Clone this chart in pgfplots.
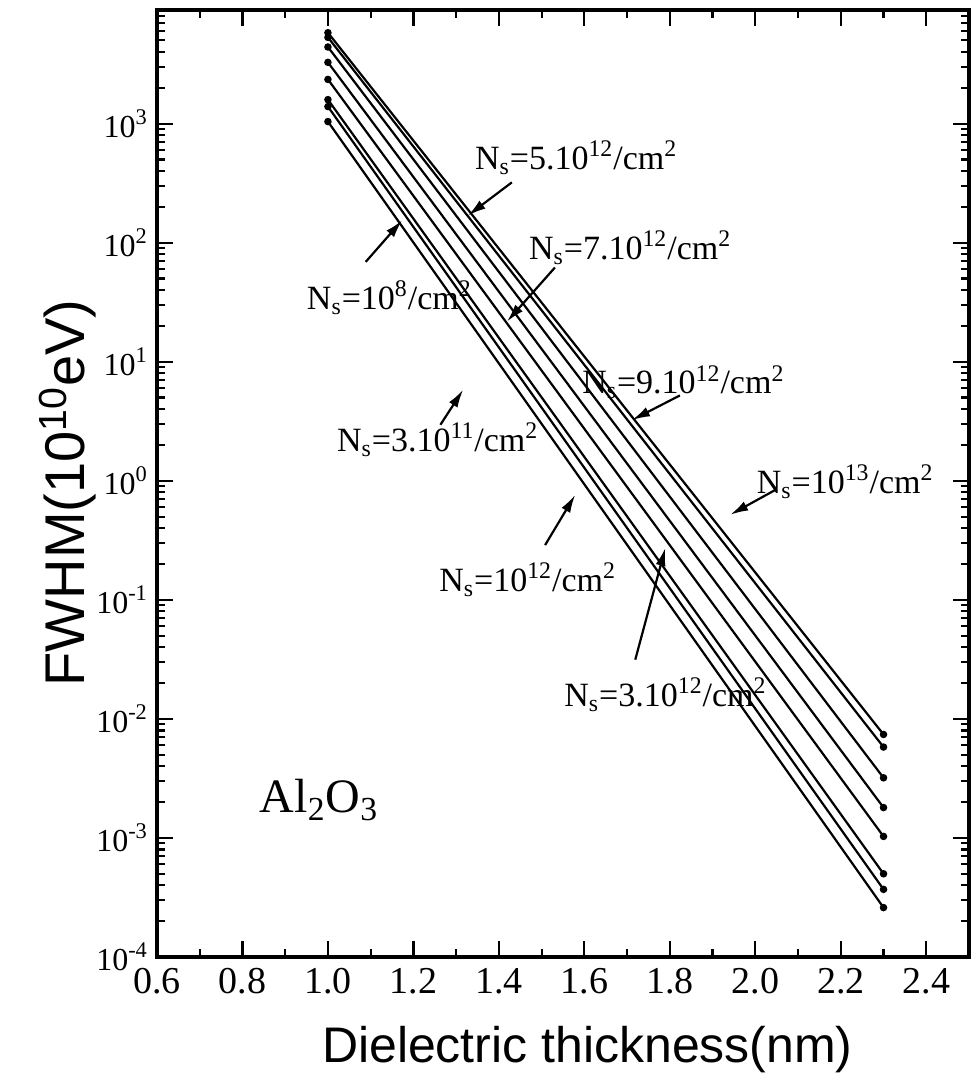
\documentclass[border=0pt]{standalone}
\usepackage{fontspec}
\setmainfont{Liberation Serif}
\setsansfont{Liberation Sans}
\usepackage{pgfplots}
\pgfplotsset{compat=1.18}
\usetikzlibrary{arrows.meta}
\newcommand{\ns}[2]{N\textsubscript{s}=#1\textsuperscript{#2}/cm\textsuperscript{2}}
\begin{document}
\begin{tikzpicture}[ann/.style={-{Latex[length=9pt,width=5pt]}, line width=1.1pt}]
\useasboundingbox (-78.5pt,-62pt) rectangle (408pt,478.5pt);
\begin{axis}[
  at={(0pt,0pt)}, anchor=south west,
  width=406pt, height=473.5pt, scale only axis,
  xmin=0.6, xmax=2.5, ymode=log, ymin=1e-4, ymax=9e3,
  axis line style={line width=1.6pt},
  every tick/.style={black, line width=1.1pt},
  tick align=inside, tick pos=both,
  major tick length=8pt, minor tick length=4pt,
  xtick={0.6,0.8,1.0,1.2,1.4,1.6,1.8,2.0,2.2,2.4},
  xticklabels={0.6,0.8,1.0,1.2,1.4,1.6,1.8,2.0,2.2,2.4},
  minor xtick={0.7,0.9,1.1,1.3,1.5,1.7,1.9,2.1,2.3},
  ytick={1e-4,1e-3,1e-2,1e-1,1,10,100,1000},
  yticklabels={10\textsuperscript{-4},10\textsuperscript{-3},10\textsuperscript{-2},10\textsuperscript{-1},10\textsuperscript{0},10\textsuperscript{1},10\textsuperscript{2},10\textsuperscript{3}},
  minor ytick={2e-4,3e-4,4e-4,5e-4,6e-4,7e-4,8e-4,9e-4,
    2e-3,3e-3,4e-3,5e-3,6e-3,7e-3,8e-3,9e-3,
    2e-2,3e-2,4e-2,5e-2,6e-2,7e-2,8e-2,9e-2,
    0.2,0.3,0.4,0.5,0.6,0.7,0.8,0.9,
    2,3,4,5,6,7,8,9,
    20,30,40,50,60,70,80,90,
    200,300,400,500,600,700,800,900,
    2000,3000,4000,5000,6000,7000,8000},
  xticklabel style={font=\fontsize{19}{22}\selectfont, yshift=-2pt},
  yticklabel style={font=\fontsize{16}{19}\selectfont, xshift=-1pt},
  xlabel={Dielectric thickness(nm)},
  ylabel={FWHM(10\textsuperscript{10}eV)},
  xlabel style={font=\sffamily\fontsize{25}{30}\selectfont, at={(axis description cs:0.53,-0.098)}, anchor=center},
  ylabel style={font=\sffamily\fontsize{28}{32}\selectfont, at={(axis description cs:-0.1096,0.49)}, anchor=center},
  clip=false,
]
\addplot[black, line width=1.1pt, mark=*, mark size=1.3pt] coordinates {(1.0,5800) (2.3,7.4e-3)};
\addplot[black, line width=1.1pt, mark=*, mark size=1.3pt] coordinates {(1.0,5300) (2.3,5.8e-3)};
\addplot[black, line width=1.1pt, mark=*, mark size=1.3pt] coordinates {(1.0,4400) (2.3,3.2e-3)};
\addplot[black, line width=1.1pt, mark=*, mark size=1.3pt] coordinates {(1.0,3270) (2.3,1.8e-3)};
\addplot[black, line width=1.1pt, mark=*, mark size=1.3pt] coordinates {(1.0,2350) (2.3,1.03e-3)};
\addplot[black, line width=1.1pt, mark=*, mark size=1.3pt] coordinates {(1.0,1590) (2.3,5.0e-4)};
\addplot[black, line width=1.1pt, mark=*, mark size=1.3pt] coordinates {(1.0,1390) (2.3,3.7e-4)};
\addplot[black, line width=1.1pt, mark=*, mark size=1.3pt] coordinates {(1.0,1040) (2.3,2.6e-4)};

\begin{scope}[font=\fontsize{17}{20}\selectfont]
\node[anchor=west] at (axis description cs:0.383,0.844) {\ns{5.10}{12}};
\draw[ann] (axis description cs:0.437,0.818) -- (axis description cs:0.383,0.783);
\node[anchor=west] at (axis description cs:0.4495,0.749) {\ns{7.10}{12}};
\draw[ann] (axis description cs:0.490,0.728) -- (axis description cs:0.431,0.671);
\node[anchor=west] at (axis description cs:0.515,0.607) {\ns{9.10}{12}};
\draw[ann] (axis description cs:0.644,0.593) -- (axis description cs:0.585,0.567);
\node[anchor=west] at (axis description cs:0.730,0.502) {\ns{10}{13}};
\draw[ann] (axis description cs:0.761,0.493) -- (axis description cs:0.706,0.467);
\node[anchor=west] at (axis description cs:0.176,0.696) {\ns{10}{8}};
\draw[ann] (axis description cs:0.257,0.734) -- (axis description cs:0.302,0.778);
\node[anchor=west] at (axis description cs:0.213,0.546) {\ns{3.10}{11}};
\draw[ann] (axis description cs:0.349,0.562) -- (axis description cs:0.377,0.599);
\node[anchor=west] at (axis description cs:0.339,0.398) {\ns{10}{12}};
\draw[ann] (axis description cs:0.478,0.435) -- (axis description cs:0.515,0.488);
\node[anchor=west] at (axis description cs:0.493,0.277) {\ns{3.10}{12}};
\draw[ann] (axis description cs:0.589,0.314) -- (axis description cs:0.626,0.432);
\end{scope}
\node[anchor=west, font=\fontsize{24}{28}\selectfont] at (axis description cs:0.118,0.166) {Al\textsubscript{2}O\textsubscript{3}};
\end{axis}
\end{tikzpicture}
\end{document}
